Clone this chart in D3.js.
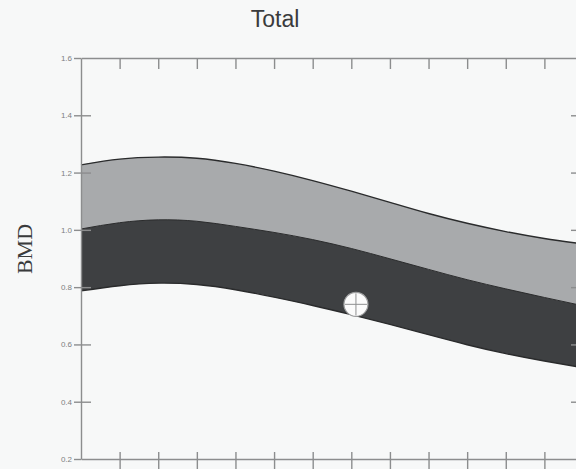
<!DOCTYPE html>
<html>
<head>
<meta charset="utf-8">
<script src="https://cdn.jsdelivr.net/npm/d3@7"></script>
<style>
  html, body { margin: 0; padding: 0; background: #f7f8f8; overflow: hidden; }
  svg { display: block; }
  .axis path, .axis line { stroke: #8c8d8e; stroke-width: 1.4; }
  .axis text { fill: #7e7f80; font-family: "Liberation Sans", Arial, sans-serif; font-size: 8px; }
</style>
</head>
<body>
<svg id="chart" width="576" height="469"></svg>
<script>
// Reference curves of BMD by age (total body)
const ages = [20, 25, 30, 35, 40, 45, 50, 55, 60, 65, 70, 75, 80, 85];
const upperBMD = [1.227, 1.247, 1.254, 1.250, 1.232, 1.205, 1.172, 1.135, 1.096, 1.057, 1.023, 0.994, 0.970, 0.951];
const meanBMD  = [1.003, 1.025, 1.035, 1.030, 1.012, 0.991, 0.966, 0.935, 0.899, 0.862, 0.826, 0.794, 0.764, 0.735];
const lowerBMD = [0.787, 0.805, 0.814, 0.809, 0.791, 0.765, 0.736, 0.704, 0.670, 0.634, 0.599, 0.568, 0.542, 0.519];

// Patient measurement
const patientAge = [55.6];
const patientBMD = [0.740];

const yTicks = [0.2, 0.4, 0.6, 0.8, 1.0, 1.2, 1.4, 1.6];
const yInnerTicks = [0.4, 0.6, 0.8, 1.0, 1.2, 1.4];
const xTicks = [25, 30, 35, 40, 45, 50, 55, 60, 65, 70, 75, 80];

const svg = d3.select("#chart");

const x = d3.scaleLinear().domain([20, 85]).range([81, 583]);
const y = d3.scaleLinear().domain([0.2, 1.6]).range([459, 58]);

const rows = ages.map((a, i) => ({ age: a, up: upperBMD[i], mid: meanBMD[i], lo: lowerBMD[i] }));
const curve = d3.curveNatural;

// Upper band (light grey)
svg.append("path")
  .datum(rows)
  .attr("fill", "#a8aaac")
  .attr("d", d3.area().curve(curve).x(d => x(d.age)).y0(d => y(d.mid)).y1(d => y(d.up)));

// Lower band (dark grey)
svg.append("path")
  .datum(rows)
  .attr("fill", "#3e4042")
  .attr("d", d3.area().curve(curve).x(d => x(d.age)).y0(d => y(d.lo)).y1(d => y(d.mid)));

// Band edges
["up", "mid", "lo"].forEach(k => {
  svg.append("path")
    .datum(rows)
    .attr("fill", "none")
    .attr("stroke", "#2a2b2c")
    .attr("stroke-width", k === "mid" ? 1 : 1.4)
    .attr("d", d3.line().curve(curve).x(d => x(d.age)).y(d => y(d[k])));
});

// Axes: left with labels, ticks crossing the frame
svg.append("g").attr("class", "axis")
  .attr("transform", `translate(${x(20)},0)`)
  .call(d3.axisLeft(y).tickValues(yTicks).tickSize(7).tickSizeOuter(0).tickPadding(2)
    .tickFormat(d3.format(".1f")));
svg.append("g").attr("class", "axis")
  .attr("transform", `translate(${x(20)},0)`)
  .call(d3.axisRight(y).tickValues(yInnerTicks).tickSize(10).tickSizeOuter(0).tickFormat(""))
  .select(".domain").remove();

// Right frame, ticks pointing inward
svg.append("g").attr("class", "axis")
  .attr("transform", `translate(${x(85)},0)`)
  .call(d3.axisRight(y).tickValues(yInnerTicks).tickSize(-12).tickSizeOuter(0).tickFormat(""));

// Top frame, ticks pointing inward
svg.append("g").attr("class", "axis")
  .attr("transform", `translate(0,${y(1.6)})`)
  .call(d3.axisTop(x).tickValues(xTicks).tickSize(-11).tickSizeOuter(0).tickFormat(""));

// Bottom axis, ticks crossing the line
svg.append("g").attr("class", "axis")
  .attr("transform", `translate(0,${y(0.2)})`)
  .call(d3.axisBottom(x).tickValues(xTicks).tickSize(12).tickSizeOuter(0).tickFormat(""));
svg.append("g").attr("class", "axis")
  .attr("transform", `translate(0,${y(0.2)})`)
  .call(d3.axisTop(x).tickValues(xTicks).tickSize(7).tickSizeOuter(0).tickFormat(""))
  .select(".domain").remove();

// Patient marker: circle with crosshair
const pts = patientAge.map((a, i) => ({ age: a, bmd: patientBMD[i] }));
const mk = svg.selectAll("g.marker").data(pts).enter().append("g")
  .attr("class", "marker")
  .attr("transform", d => `translate(${x(d.age)},${y(d.bmd)})`);
mk.append("circle").attr("r", 12).attr("fill", "#fbfbfb").attr("stroke", "#9c9d9e").attr("stroke-width", 1.2);
mk.append("line").attr("x1", -11).attr("x2", 11).attr("stroke", "#8f9091").attr("stroke-width", 1);
mk.append("line").attr("y1", -11).attr("y2", 11).attr("stroke", "#8f9091").attr("stroke-width", 1);

// Title
svg.append("text")
  .attr("x", 275).attr("y", 27)
  .attr("text-anchor", "middle")
  .attr("font-family", "Liberation Sans, Arial, sans-serif")
  .attr("font-size", 23)
  .attr("fill", "#3a3b3c")
  .text("Total");

// Y axis title
svg.append("text")
  .attr("transform", "translate(32,249) rotate(-90)")
  .attr("text-anchor", "middle")
  .attr("font-family", "Liberation Serif, Times New Roman, serif")
  .attr("font-size", 22)
  .attr("fill", "#3a3b3c")
  .text("BMD");
</script>
</body>
</html>
